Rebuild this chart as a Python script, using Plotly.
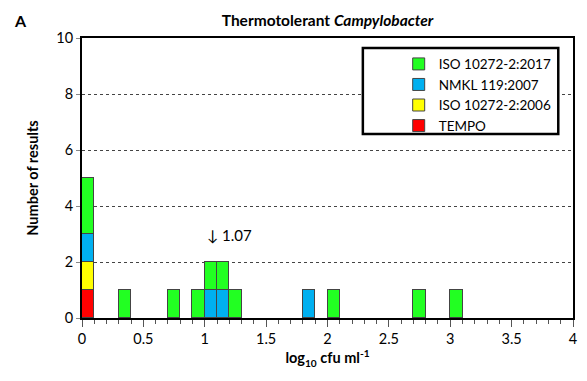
import plotly.graph_objects as go

bin_centers = [0.05, 0.35, 0.75, 0.95, 1.05, 1.15, 1.25, 1.85, 2.05, 2.75, 3.05]
tempo =      [1, 0, 0, 0, 0, 0, 0, 0, 0, 0, 0]
iso2006 =    [1, 0, 0, 0, 0, 0, 0, 0, 0, 0, 0]
nmkl =       [1, 0, 0, 0, 1, 1, 0, 1, 0, 0, 0]
iso2017 =    [2, 1, 1, 1, 1, 1, 1, 0, 1, 1, 1]
median_val = 1.07

FONT = "Lato, Open Sans, sans-serif"

series = [
    ("TEMPO", tempo, "#FF0000"),
    ("ISO 10272-2:2006", iso2006, "#FFFF00"),
    ("NMKL 119:2007", nmkl, "#00B0F0"),
    ("ISO 10272-2:2017", iso2017, "#22FF22"),
]

fig = go.Figure()
for name, vals, col in series:
    fig.add_trace(go.Bar(
        x=bin_centers, y=vals, width=0.1, name=name,
        marker=dict(color=col, line=dict(color="#444444", width=1)),
    ))

fig.add_annotation(x=median_val, y=2.95, text="\u2193 1.07", showarrow=False,
                   xanchor="left", font=dict(size=15, color="black", family=FONT), xshift=-8)
fig.add_annotation(x=-0.125, y=1.064, xref="paper", yref="paper", text="<b>A</b>",
                   showarrow=False, font=dict(size=16, color="black", family=FONT),
                   xanchor="center", yanchor="middle")

# legend frame
fig.add_shape(type="rect", xref="paper", yref="paper", x0=0.572, x1=0.970, y0=0.657, y1=0.964,
              line=dict(color="black", width=2.5), fillcolor="white", layer="above")

fig.update_layout(
    width=587, height=381,
    margin=dict(l=82, r=10, t=38, b=63),
    paper_bgcolor="white", plot_bgcolor="white",
    barmode="stack", bargap=0,
    font=dict(family=FONT, size=14.5, color="black"),
    title=dict(text="<b>Thermotolerant <i>Campylobacter</i></b>", xref="paper", x=0.5, xanchor="center",
               y=0.947, yanchor="middle", font=dict(size=15.5, family=FONT)),
    legend=dict(x=0.645, y=0.962, xanchor="left", yanchor="top",
                borderwidth=0, bgcolor="rgba(0,0,0,0)",
                traceorder="reversed", font=dict(size=13.5, family=FONT),
                itemwidth=30, tracegroupgap=0),
    showlegend=True,
)
fig.update_xaxes(range=[0, 4], tick0=0, dtick=0.5, showline=True, linecolor="black",
                 linewidth=2, mirror=True, ticks="outside", ticklen=7, tickcolor="#555555",
                 showgrid=False, zeroline=False,
                 minor=dict(dtick=0.1, ticks="outside", ticklen=4, tickcolor="#555555"),
                 title=dict(text="<b>log<sub>10</sub> cfu ml<sup>-1</sup></b>", font=dict(size=14.5), standoff=4))
fig.update_yaxes(range=[0, 10], dtick=2, showline=True, linecolor="black", linewidth=2,
                 mirror=True, ticks="outside", ticklen=4, tickcolor="#888888",
                 showgrid=True, gridcolor="#444444", griddash="3px,3px", gridwidth=1,
                 zeroline=False,
                 title=dict(text="<b>Number of results</b>", font=dict(size=14.5), standoff=14))

fig.write_html("out.html")
